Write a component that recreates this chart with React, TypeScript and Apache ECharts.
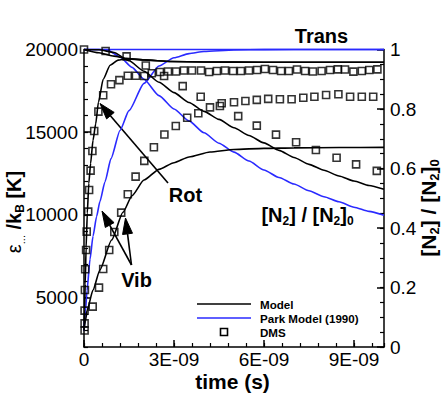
import React, { useEffect, useRef } from 'react';
import * as echarts from 'echarts';

const FONT = '"Liberation Sans", Arial, Helvetica, sans-serif';
const BLUE = '#2a2aff';

// time in units of 1E-09 s
const xTickLabels = [0, 3, 6, 9];
const leftTickLabels = [5000, 10000, 15000, 20000];

// Model (black)
const modelTransT = [0, 0.5, 1.0, 1.4, 2.0, 2.9, 4, 6, 8, 10];
const modelTransK = [20000, 19800, 19600, 19470, 19370, 19270, 19240, 19230, 19227, 19225];

const modelRotT = [0, 0.02, 0.04, 0.07, 0.11, 0.16, 0.22, 0.3, 0.39, 0.48, 0.64, 0.87, 1.14, 1.4, 2.0, 2.9, 4, 6, 8, 10];
const modelRotK = [3000, 4300, 5800, 8000, 10100, 11900, 13100, 14500, 15500, 16800, 18200, 19050, 19360, 19430, 19370, 19270, 19240, 19230, 19227, 19225];

const modelVibT = [0, 0.05, 0.1, 0.3, 0.53, 0.92, 1.3, 1.6, 2.0, 2.5, 3.0, 3.5, 4.2, 5.0, 6.0, 7.0, 8.5, 10];
const modelVibK = [3000, 3600, 4200, 5450, 6660, 8470, 10150, 11150, 12100, 12750, 13150, 13500, 13800, 13950, 14020, 14050, 14070, 14080];

const modelN2T = [0, 0.5, 1, 1.5, 2, 2.5, 3, 3.5, 4, 4.5, 5, 5.5, 6, 6.5, 7, 7.5, 8, 8.5, 9, 9.5, 10];
const modelN2 = [1, 0.999, 0.99, 0.962, 0.927, 0.89, 0.855, 0.822, 0.792, 0.765, 0.737, 0.711, 0.686, 0.661, 0.637, 0.614, 0.594, 0.575, 0.558, 0.543, 0.53];

// Park Model (1990) (blue)
const parkTransT = [0, 10];
const parkTransK = [20000, 20000];

const parkVibT = [0, 0.05, 0.1, 0.2, 0.3, 0.42, 0.53, 0.7, 0.9, 1.2, 1.5, 2.0, 2.5, 3.0, 3.5, 4.0, 5.0, 6.0, 8, 10];
const parkVibK = [3000, 4200, 5400, 7300, 8700, 9900, 10800, 12000, 13400, 15100, 16300, 17950, 19000, 19500, 19750, 19880, 19970, 19995, 20000, 20000];

const parkN2T = [0, 0.5, 0.8, 1.2, 1.6, 2, 2.5, 3, 3.5, 4, 4.5, 5, 5.5, 6, 6.5, 7, 7.5, 8, 8.5, 9, 9.5, 10];
const parkN2 = [1, 1, 0.997, 0.975, 0.94, 0.9, 0.845, 0.8, 0.76, 0.72, 0.685, 0.655, 0.625, 0.595, 0.57, 0.548, 0.525, 0.505, 0.488, 0.47, 0.456, 0.443];

// DMS (squares)
const dmsRotT = [0.02, 0.02, 0.03, 0.04, 0.07, 0.09, 0.14, 0.17, 0.22, 0.28, 0.34, 0.48, 0.64, 0.9, 1.18, 1.46, 1.73, 2.01, 2.26, 2.53, 2.8, 3.07, 3.33, 3.6, 3.9, 4.17, 4.43, 4.7, 4.97, 5.23, 5.5, 5.77, 6.03, 6.3, 6.57, 6.83, 7.1, 7.37, 7.63, 7.92, 8.2, 8.46, 8.7, 8.98, 9.26, 9.51, 9.78];
const dmsRotK = [3000, 4200, 5450, 6700, 7870, 8980, 10190, 11500, 12670, 13860, 15070, 16240, 17230, 17900, 18150, 18410, 18410, 18400, 18560, 18640, 18670, 18670, 18730, 18730, 18730, 18640, 18700, 18730, 18700, 18700, 18730, 18760, 18820, 18760, 18700, 18700, 18790, 18700, 18670, 18700, 18760, 18800, 18790, 18660, 18700, 18760, 18800];

const dmsVibT = [0.02, 0.29, 0.5, 0.64, 0.84, 1.01, 1.24, 1.46, 1.72, 2.01, 2.33, 2.68, 3.06, 3.44, 3.81, 4.2, 4.59, 5.0, 5.38, 5.76, 6.14, 6.53, 6.92, 7.31, 7.68, 8.07, 8.48, 8.87, 9.26, 9.64];
const dmsVibK = [3430, 4440, 5590, 6720, 7870, 8960, 10130, 11240, 12310, 13260, 14090, 14860, 15370, 15870, 16140, 16500, 16750, 16810, 16880, 16950, 17010, 16990, 16990, 17080, 17140, 17250, 17290, 17140, 17140, 17140];

const dmsN2T = [0, 0.72, 1.42, 2.06, 2.67, 3.29, 3.89, 4.53, 5.14, 5.76, 6.4, 7.07, 7.73, 8.42, 9.07, 9.76];
const dmsN2 = [1.0, 0.995, 0.977, 0.946, 0.911, 0.877, 0.841, 0.81, 0.776, 0.744, 0.714, 0.688, 0.662, 0.636, 0.614, 0.592];

const pairs = (t: number[], v: number[]) => t.map((x, i) => [x, v[i]]);

const lineSeries = (data: number[][], color: string, yAxisIndex: number) => ({
  type: 'line',
  xAxisIndex: 0,
  yAxisIndex,
  data,
  symbol: 'none',
  showSymbol: false,
  smooth: 0.2,
  smoothMonotone: 'x',
  clip: false,
  silent: true,
  lineStyle: { color, width: 1.6 },
  z: 2,
});

const squareSeries = (data: number[][], yAxisIndex: number) => ({
  type: 'scatter',
  xAxisIndex: 0,
  yAxisIndex,
  data,
  symbol: 'rect',
  symbolSize: 7,
  clip: false,
  silent: true,
  itemStyle: { color: 'rgba(255,255,255,0)', borderColor: '#000', borderWidth: 1.6 },
  z: 3,
});

function arrow(x1: number, y1: number, x2: number, y2: number, len = 16, hw = 5) {
  const dx = x2 - x1;
  const dy = y2 - y1;
  const L = Math.sqrt(dx * dx + dy * dy);
  const ux = dx / L;
  const uy = dy / L;
  const bx = x2 - ux * len;
  const by = y2 - uy * len;
  const px = -uy;
  const py = ux;
  return [
    { type: 'line', silent: true, shape: { x1, y1, x2: bx, y2: by }, style: { stroke: '#000', lineWidth: 1.6 } },
    {
      type: 'polygon',
      silent: true,
      shape: { points: [[x2, y2], [bx + px * hw, by + py * hw], [bx - px * hw, by - py * hw]] },
      style: { fill: '#000', stroke: '#000', lineWidth: 1 },
    },
  ];
}

const txt = (text: string, x: number, y: number, size: number, align = 'center') => ({
  type: 'text',
  silent: true,
  x,
  y,
  style: {
    text,
    fill: '#000',
    font: `bold ${size}px ${FONT}`,
    align,
    verticalAlign: 'middle',
  },
});

const bigB = { fontSize: 20, fontWeight: 'bold', fontFamily: FONT, fill: '#000', lineHeight: 24, verticalAlign: 'middle' };
const subB = { fontSize: 12, fontWeight: 'bold', fontFamily: FONT, fill: '#000', lineHeight: 10, verticalAlign: 'bottom' };
const bigR = { fontSize: 21, fontWeight: 'bold', fontFamily: FONT, fill: '#000', lineHeight: 25, verticalAlign: 'middle' };
const subR = { fontSize: 13, fontWeight: 'bold', fontFamily: FONT, fill: '#000', lineHeight: 10, verticalAlign: 'bottom' };

export default function App() {
  const ref = useRef<HTMLDivElement>(null);
  useEffect(() => {
    const el = ref.current;
    if (!el) return;
    const chart = echarts.init(el, null, { renderer: 'svg' });
    const axisLineStyle = { color: '#000', width: 1.5 };
    const labelStyle = { color: '#000', fontSize: 19, fontFamily: FONT };
    const option: any = {
      animation: false,
      backgroundColor: '#fff',
      grid: { left: 84, right: 59, top: 49.5, bottom: 46, containLabel: false, outerBoundsMode: 'none' },
      xAxis: [
        {
          type: 'value', min: 0, max: 10, position: 'bottom',
          axisLine: { show: true, onZero: false, lineStyle: axisLineStyle },
          axisTick: { show: true, inside: true, length: 7, customValues: xTickLabels, lineStyle: axisLineStyle },
          axisLabel: { ...labelStyle, margin: 3, customValues: xTickLabels, formatter: (v: number) => (v === 0 ? '0' : `${v}E-09`) },
          splitLine: { show: false },
        },
        {
          type: 'value', min: 0, max: 10, interval: 0.6, position: 'bottom',
          axisLine: { show: false, onZero: false },
          axisTick: { show: true, inside: true, length: 4, lineStyle: { color: '#000', width: 1.2 } },
          axisLabel: { show: false },
          splitLine: { show: false },
        },
      ],
      yAxis: [
        {
          type: 'value', min: 2000, max: 20000, position: 'left',
          axisLine: { show: true, onZero: false, lineStyle: axisLineStyle },
          axisTick: { show: true, inside: true, length: 7, customValues: leftTickLabels, lineStyle: axisLineStyle },
          axisLabel: { ...labelStyle, margin: 6, customValues: leftTickLabels, formatter: (v: number) => String(v) },
          splitLine: { show: false },
        },
        {
          type: 'value', min: 2000, max: 20000, interval: 1000, position: 'left',
          axisLine: { show: false, onZero: false },
          axisTick: { show: true, inside: true, length: 4, lineStyle: { color: '#000', width: 1.2 } },
          axisLabel: { show: false },
          splitLine: { show: false },
        },
        {
          type: 'value', min: 0, max: 1, interval: 0.2, position: 'right',
          axisLine: { show: true, onZero: false, lineStyle: axisLineStyle },
          axisTick: { show: true, inside: true, length: 7, lineStyle: axisLineStyle },
          axisLabel: { ...labelStyle, margin: 6, formatter: (v: number) => String(Number(v.toFixed(2))) },
          splitLine: { show: false },
        },
        {
          type: 'value', min: 0, max: 1, interval: 0.05, position: 'right',
          axisLine: { show: false, onZero: false },
          axisTick: { show: true, inside: true, length: 4, lineStyle: { color: '#000', width: 1.2 } },
          axisLabel: { show: false },
          splitLine: { show: false },
        },
      ],
      series: [
        lineSeries(pairs(parkTransT, parkTransK), BLUE, 0),
        lineSeries(pairs(parkVibT, parkVibK), BLUE, 0),
        lineSeries(pairs(parkN2T, parkN2), BLUE, 2),
        lineSeries(pairs(modelTransT, modelTransK), '#000', 0),
        lineSeries(pairs(modelRotT, modelRotK), '#000', 0),
        lineSeries(pairs(modelVibT, modelVibK), '#000', 0),
        lineSeries(pairs(modelN2T, modelN2), '#000', 2),
        squareSeries(pairs(dmsRotT, dmsRotK), 0),
        squareSeries(pairs(dmsVibT, dmsVibK), 0),
        squareSeries(pairs(dmsN2T, dmsN2), 2),
      ],
      graphic: [
        txt('Trans', 321.5, 35.5, 20),
        txt('Rot', 185.5, 195, 20),
        txt('Vib', 136.5, 280, 20),
        ...arrow(168, 183, 100, 103.5),
        ...arrow(131.5, 265, 102, 211),
        ...arrow(131.5, 265, 125.5, 218),
        {
          type: 'text', silent: true, x: 307.5, y: 215,
          style: {
            text: '{a|[N}{s|2}{a|] / [N}{s|2}{a|]}{s|0}',
            rich: { a: bigB, s: subB },
            align: 'center', verticalAlign: 'middle',
          },
        },
        {
          type: 'text', silent: true, x: 428, y: 208, rotation: Math.PI / 2,
          style: {
            text: '{a|[N}{s|2}{a|] / [N}{s|2}{a|]}{s|0}',
            rich: { a: bigR, s: subR },
            align: 'center', verticalAlign: 'middle',
          },
        },
        {
          type: 'text', silent: true, x: 14, y: 212, rotation: Math.PI / 2,
          style: {
            text: '{e|ε}{d|...}{a| /k}{s|B}{a| [K]}',
            rich: {
              e: { fontSize: 20, fontFamily: FONT, fill: '#000', lineHeight: 24, verticalAlign: 'middle' },
              d: { fontSize: 11, fontFamily: FONT, fill: '#000', lineHeight: 10, verticalAlign: 'bottom' },
              a: bigB,
              s: subB,
            },
            align: 'center', verticalAlign: 'middle',
          },
        },
        txt('time (s)', 232.5, 381, 21),
        // legend
        { type: 'line', silent: true, shape: { x1: 197, y1: 304, x2: 251, y2: 304 }, style: { stroke: '#000', lineWidth: 1.6 } },
        { type: 'line', silent: true, shape: { x1: 197, y1: 318, x2: 251, y2: 318 }, style: { stroke: BLUE, lineWidth: 1.6 } },
        { type: 'rect', silent: true, shape: { x: 220.5, y: 328.5, width: 7, height: 7 }, style: { fill: 'none', stroke: '#000', lineWidth: 1.6 } },
        txt('Model', 260, 304, 11.6, 'left'),
        txt('Park Model (1990)', 260, 318, 11.6, 'left'),
        txt('DMS', 260, 332, 11.6, 'left'),
      ],
    };
    chart.setOption(option);
    return () => chart.dispose();
  }, []);
  return (
    <div
      ref={ref}
      style={{ position: 'fixed', left: 0, top: 0, width: 443, height: 393, background: '#fff' }}
    />
  );
}
